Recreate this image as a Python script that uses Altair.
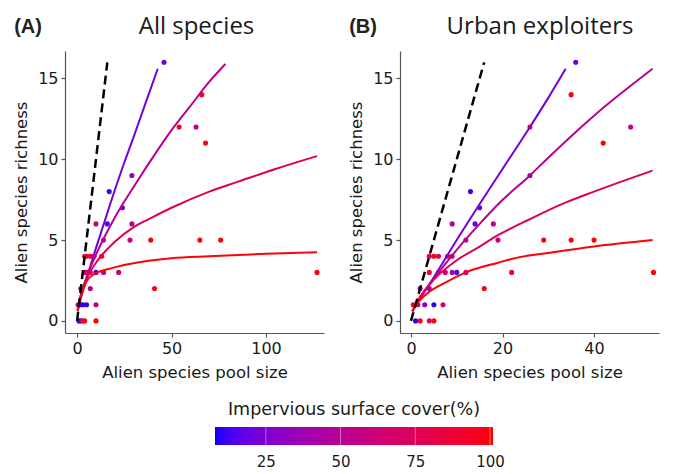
import altair as alt
import pandas as pd

# ---------------- data ----------------
# Panel A: All species
a_pool = [46, 66, 54, 63, 68, 29, 17, 24, 10, 16, 29, 14, 28, 39, 65, 76, 4, 5, 7, 9, 13,
          4, 5, 7, 10, 14, 22, 127, 2, 7, 41, 0.5, 2, 3, 5, 10, 1, 2, 3, 4, 10]
a_rich = [16, 14, 12, 12, 11, 9, 8, 7, 6, 6, 6, 5, 5, 5, 5, 5, 4, 4, 4, 4, 4,
          3, 3, 3, 3, 3, 3, 3, 2, 2, 2, 1, 1, 1, 1, 1, 0, 0, 0, 0, 0]
a_imp = [20, 98, 95, 55, 100, 30, 12, 20, 55, 15, 55, 45, 60, 100, 100, 100, 75, 95, 90, 85, 95,
         95, 65, 90, 12, 55, 65, 100, 35, 50, 100, 60, 12, 10, 10, 55, 10, 15, 90, 95, 100]

# Panel B: Urban exploiters
b_pool = [36, 35, 26, 48, 42, 26, 13, 15, 9, 14, 18, 12, 19, 29, 35, 40, 4, 5, 6, 8, 9,
          4, 6, 7.5, 9, 10, 12, 22, 53, 2, 4, 16, 0.5, 1.5, 3, 5, 7, 1, 2, 4, 5]
b_rich = [16, 14, 12, 12, 11, 9, 8, 7, 6, 6, 6, 5, 5, 5, 5, 5, 4, 4, 4, 4, 4,
          3, 3, 3, 3, 3, 3, 3, 3, 2, 2, 2, 1, 1, 1, 1, 1, 0, 0, 0, 0]
b_imp = [20, 98, 95, 55, 100, 30, 12, 18, 55, 18, 55, 50, 60, 100, 100, 100, 65, 95, 80, 90, 60,
         85, 65, 60, 45, 15, 55, 75, 100, 35, 40, 100, 95, 60, 30, 10, 65, 10, 95, 80, 95]

# fitted curves, impervious level of each curve
fit_levels = [22, 50, 75, 100]

fa1_x = [0.3, 2, 5, 10, 18, 25, 30, 36, 42.7]
fa1_y = [0.6, 1.4, 2.6, 4.5, 7.4, 9.8, 11.4, 13.4, 15.6]
fa2_x = [0.3, 2, 5, 10, 20, 30, 40, 50, 60, 70, 78.5]
fa2_y = [0.7, 1.6, 2.7, 4.1, 6.4, 8.3, 10.1, 11.8, 13.3, 14.8, 15.9]
fa3_x = [0.3, 2, 5, 10, 20, 30, 38, 50, 70, 85, 105, 127]
fa3_y = [0.7, 1.6, 2.6, 3.6, 4.9, 5.8, 6.3, 7.0, 8.0, 8.6, 9.4, 10.2]
fa4_x = [0.3, 2, 4.8, 9.2, 18, 27, 38, 50, 70, 100, 127]
fa4_y = [0.6, 1.5, 2.4, 2.9, 3.25, 3.5, 3.72, 3.88, 4.0, 4.15, 4.25]

fb1_x = [0.3, 2, 5, 10, 15.4, 20, 26, 30, 33.8]
fb1_y = [0.6, 1.4, 2.7, 5.0, 7.4, 9.4, 12.0, 13.8, 15.6]
fb2_x = [0.3, 2, 5, 10, 15, 19.7, 26, 30, 40, 52.8]
fb2_y = [0.6, 1.4, 2.6, 4.4, 6.0, 7.4, 9.0, 10.1, 12.7, 15.6]
fb3_x = [0.3, 2, 5, 10, 15, 19, 26, 33.6, 40, 52.8]
fb3_y = [0.6, 1.5, 2.55, 3.75, 4.6, 5.3, 6.3, 7.3, 8.0, 9.3]
fb4_x = [0.3, 2, 4, 7.7, 12, 19, 23, 30, 40, 52.8]
fb4_y = [0.6, 1.3, 1.8, 2.4, 3.0, 3.6, 3.9, 4.2, 4.6, 5.0]

# 1:1 reference line
ref_x = [0, 16]
ref_y = [0, 16]

legend_title = "Impervious surface cover(%)"
legend_ticks = [25, 50, 75, 100]
color_domain = [8, 101]

# ---------------- chart ----------------
FONT = "DejaVu Sans"

color_scale = alt.Scale(domain=color_domain, range=["#0000ff", "#ff0000"], interpolate="lab")


def panel(pool, rich, imp, fits, xdom, xticks, title, tag, title_x):
    pts = pd.DataFrame({"pool": pool, "rich": rich, "imp": imp})
    rows = []
    for k, (fx, fy) in enumerate(fits):
        for xv, yv in zip(fx, fy):
            rows.append({"pool": xv, "rich": yv, "imp": fit_levels[k], "curve": k})
    fits_df = pd.DataFrame(rows)
    ref_df = pd.DataFrame({"pool": ref_x, "rich": ref_y})

    x = alt.X("pool:Q", scale=alt.Scale(domain=xdom, nice=False, zero=False),
              axis=alt.Axis(values=xticks, title="Alien species pool size"))
    y = alt.Y("rich:Q", scale=alt.Scale(domain=[-0.75, 16.7], nice=False, zero=False),
              axis=alt.Axis(values=[0, 5, 10, 15], title="Alien species richness"))
    col = alt.Color("imp:Q", scale=color_scale, legend=None)
    stk = alt.Stroke("imp:Q", scale=color_scale, legend=None)

    p = alt.Chart(pts).mark_circle(size=26, opacity=1).encode(x=x, y=y, color=col)
    l = alt.Chart(fits_df).mark_line(strokeWidth=2, interpolate="monotone").encode(
        x=x, y=y, stroke=stk, detail="curve:N", order="pool:Q")
    d = alt.Chart(ref_df).mark_line(color="black", strokeWidth=2.5, strokeDash=[9, 5]).encode(x=x, y=y)
    t = alt.Chart(pd.DataFrame({"t": [tag]})).mark_text(
        font="Liberation Sans", fontWeight="bold", fontSize=20, color="#222222",
        align="center", baseline="alphabetic").encode(
        text="t:N", x=alt.value(-37), y=alt.value(-18))
    tt = alt.Chart(pd.DataFrame({"t": [title]})).mark_text(
        font="Open Sans", fontSize=24, color="#1a1a1a",
        align="center", baseline="alphabetic").encode(
        text="t:N", x=alt.value(title_x), y=alt.value(-17))
    return alt.layer(p, l, d, t, tt).properties(width=259, height=282)


pa = panel(a_pool, a_rich, a_imp,
           [(fa1_x, fa1_y), (fa2_x, fa2_y), (fa3_x, fa3_y), (fa4_x, fa4_y)],
           [-6.4, 130.7], [0, 50, 100], "All species", "(A)", 131.5)
pb = panel(b_pool, b_rich, b_imp,
           [(fb1_x, fb1_y), (fb2_x, fb2_y), (fb3_x, fb3_y), (fb4_x, fb4_y)],
           [-2.4, 54.2], [0, 20, 40], "Urban exploiters", "(B)", 140)

panels = alt.hconcat(pa, pb, spacing=24).resolve_scale(x="independent", y="independent")

# ---- colour bar (gradient legend) drawn through the same colour scale ----
LX0 = 150          # left end of the colour bar inside the legend view
BAR_LEN = 278
step = 0.5
n_bins = int(round((color_domain[1] - color_domain[0]) / step))
bar_v = [color_domain[0] + step * i for i in range(n_bins)]
bar_df = pd.DataFrame({"v": bar_v, "v2": [v + step * 2 for v in bar_v]})
bar_df.loc[bar_df.index[-1], "v2"] = color_domain[1]

lx_scale = alt.Scale(domain=color_domain, range=[LX0, LX0 + BAR_LEN], nice=False, zero=False)
lx_axis = alt.Axis(values=legend_ticks, domain=False, ticks=False, grid=False, title=None,
                   labelFontSize=15, labelPadding=9, labelColor="#1a1a1a", labelFont=FONT)
lx = alt.X("v:Q", scale=lx_scale, axis=lx_axis)

bar = alt.Chart(bar_df).mark_rect().encode(
    x=lx, x2="v2:Q", y=alt.value(0), y2=alt.value(18),
    color=alt.Color("v:Q", scale=color_scale, legend=None))
tick_df = pd.DataFrame({"v": legend_ticks})
bar_ticks = alt.Chart(tick_df).mark_rule(color="white", opacity=0.4, strokeWidth=1).encode(
    x=lx, y=alt.value(0), y2=alt.value(18))
ltitle = alt.Chart(pd.DataFrame({"t": [legend_title],
                                 "v": [(color_domain[0] + color_domain[1]) / 2]})).mark_text(
    font=FONT, fontSize=17.5, color="#1a1a1a", align="center", baseline="middle").encode(
    x=lx, y=alt.value(-17), text="t:N")
legend_view = alt.layer(bar, bar_ticks, ltitle).properties(width=600, height=18)

chart = alt.vconcat(panels, legend_view, spacing=20).resolve_scale(
    color="shared", stroke="shared"
).properties(
    padding={"left": 13, "top": 15, "right": 5, "bottom": 2},
    background="white",
).configure_view(stroke=None).configure_axis(
    grid=False, domainColor="#555555", tickColor="#555555", domainWidth=1.2, tickWidth=1.2,
    tickSize=4, labelPadding=3, labelFont=FONT, labelFontSize=16, labelColor="#1a1a1a",
    titleFont=FONT, titleFontSize=16.5, titleFontWeight="normal", titleColor="#1a1a1a",
    titlePadding=8,
)

chart.save("out.html", embed_options={"renderer": "svg", "actions": False})
